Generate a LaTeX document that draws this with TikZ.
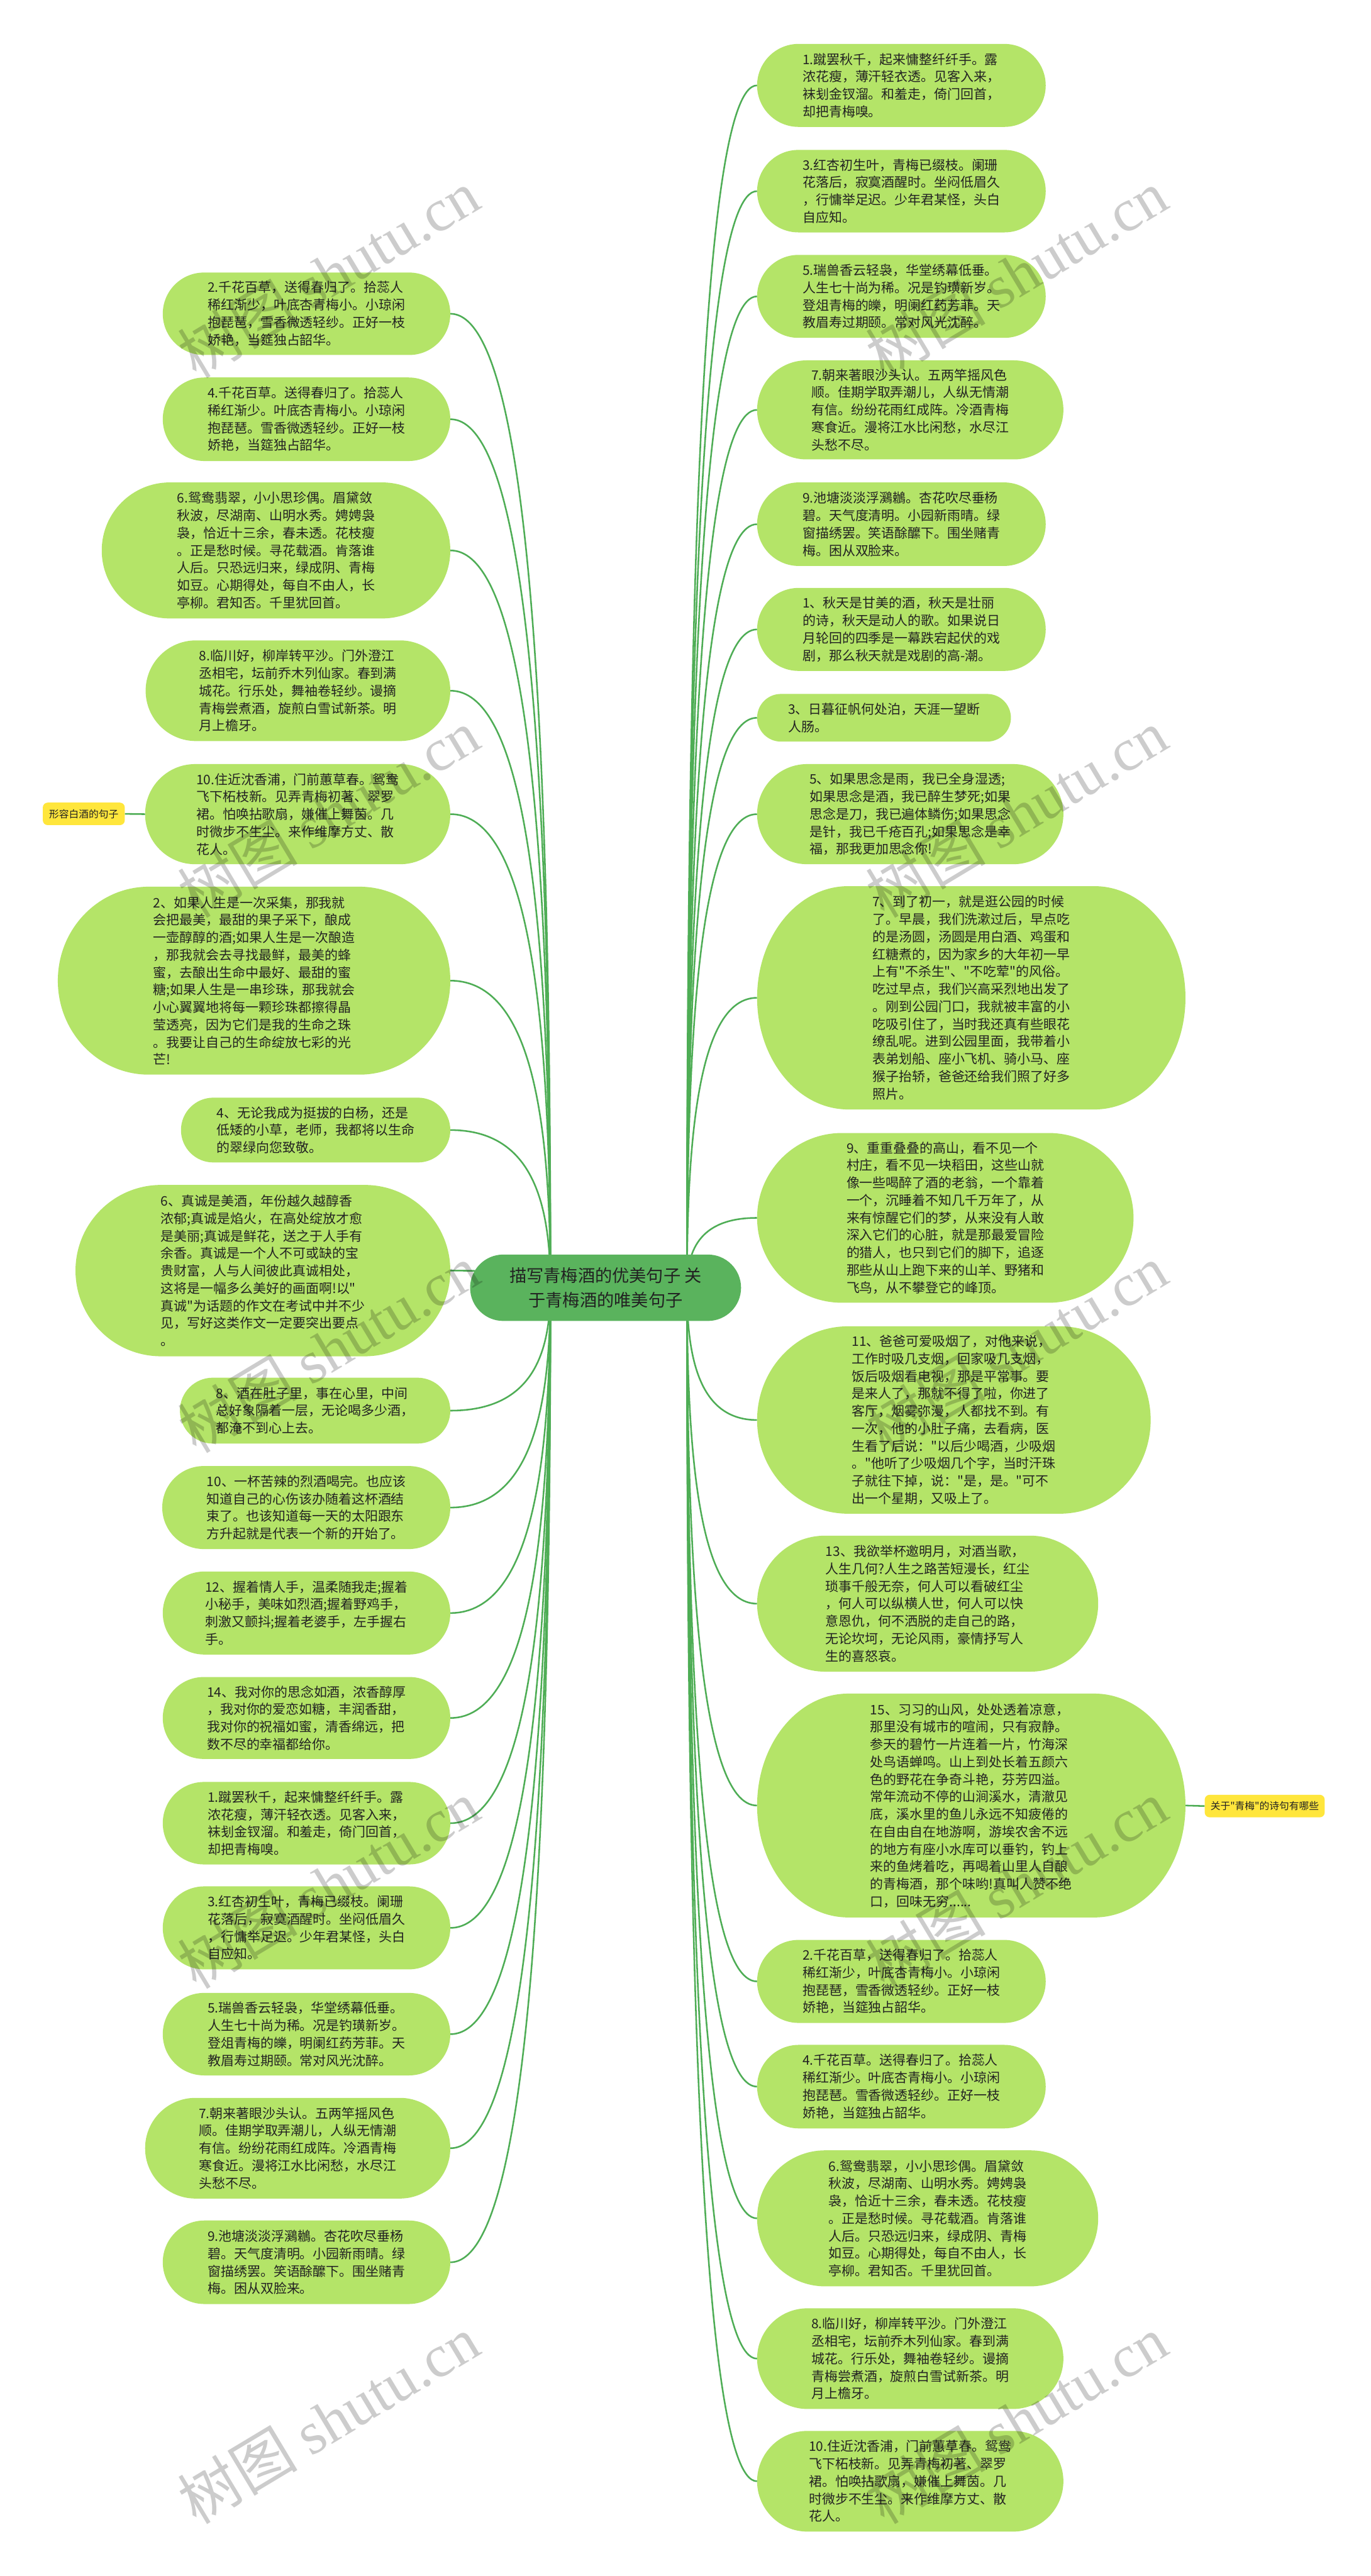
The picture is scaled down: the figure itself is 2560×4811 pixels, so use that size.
\documentclass[tikz,border=0pt]{standalone}
\usepackage{fontspec}
\newfontfamily\cjk{Noto Sans CJK SC}
\newfontfamily\wmserif{Liberation Serif}
\usetikzlibrary{calc}
\definecolor{leafc}{HTML}{B4E468}
\definecolor{linec}{HTML}{4EAD55}
\definecolor{rootc}{HTML}{5AB35D}
\definecolor{yelc}{HTML}{FFE63C}
\definecolor{txtc}{HTML}{222222}
\tikzset{
  leaft/.style={font=\cjk\fontsize{24.6}{32.6}\selectfont, text=txtc, align=left, inner sep=0pt},
  conn/.style={draw=linec, line width=3pt},
  ylab/.style={fill=yelc, rounded corners=9pt, font=\cjk\fontsize{18.5}{22}\selectfont, text=txtc, inner sep=0pt},
  rootn/.style={fill=rootc, rounded corners=62pt, font=\cjk\fontsize{32}{46}\selectfont, text=txtc, align=center, inner sep=0pt},
  wm/.style={font=\cjk\fontsize{112}{112}\selectfont, text=black, text opacity=0.2, rotate=31, anchor=west, inner sep=0pt}
}
\newcommand\leafbox[6]{%
  \pgfmathsetmacro\lfh{#5-#3}%
  \pgfmathsetmacro\lfw{#4-#2}%
  \pgfmathsetmacro\lfry{\lfh/2}%
  \pgfmathsetmacro\lfrx{min(\lfry,170)}%
  \pgfmathsetmacro\lfym{(#3+#5)/2}%
  \pgfmathsetmacro\lfcx{(#2+#4)/2}%
  \pgfmathsetmacro\lfkx{0.5523*\lfrx}%
  \pgfmathsetmacro\lfky{0.5523*\lfry}%
  \fill[leafc] ({#2+\lfrx},#3) -- ({#4-\lfrx},#3)
    .. controls ({#4-\lfrx+\lfkx},#3) and (#4,{\lfym-\lfky}) .. (#4,\lfym)
    .. controls (#4,{\lfym+\lfky}) and ({#4-\lfrx+\lfkx},#5) .. ({#4-\lfrx},#5)
    -- ({#2+\lfrx},#5)
    .. controls ({#2+\lfrx-\lfkx},#5) and (#2,{\lfym+\lfky}) .. (#2,\lfym)
    .. controls (#2,{\lfym-\lfky}) and ({#2+\lfrx-\lfkx},#3) .. cycle;
  \node[leaft, minimum width=\lfw pt, minimum height=\lfh pt] (#1) at (\lfcx,\lfym) {#6};
}
\newcommand\conL[1]{\draw[conn] (#1.east) .. controls ($(#1.east)!0.85!(rootL |- #1.east)$) and ($(rootL)!0.5!(rootL |- #1.east)$) .. (rootL);}
\newcommand\conR[1]{\draw[conn] (#1.west) .. controls ($(#1.west)!0.85!(rootR |- #1.west)$) and ($(rootR)!0.5!(rootR |- #1.west)$) .. (rootR);}

\newcommand\tQianA{2.千花百草，送得春归了。拾蕊人\\稀红渐少，叶底杏青梅小。小琼闲\\抱琵琶，雪香微透轻纱。正好一枝\\娇艳，当筵独占韶华。}
\newcommand\tQianB{4.千花百草。送得春归了。拾蕊人\\稀红渐少。叶底杏青梅小。小琼闲\\抱琵琶。雪香微透轻纱。正好一枝\\娇艳，当筵独占韶华。}
\newcommand\tYuan{6.鸳鸯翡翠，小小思珍偶。眉黛敛\\秋波，尽湖南、山明水秀。娉娉袅\\袅，恰近十三余，春未透。花枝瘦\\。正是愁时候。寻花载酒。肯落谁\\人后。只恐远归来，绿成阴、青梅\\如豆。心期得处，每自不由人，长\\亭柳。君知否。千里犹回首。}
\newcommand\tLin{8.临川好，柳岸转平沙。门外澄江\\丞相宅，坛前乔木列仙家。春到满\\城花。行乐处，舞袖卷轻纱。谩摘\\青梅尝煮酒，旋煎白雪试新茶。明\\月上檐牙。}
\newcommand\tZhu{10.住近沈香浦，门前蕙草春。鸳鸯\\飞下柘枝新。见弄青梅初著、翠罗\\裙。怕唤拈歌扇，嫌催上舞茵。几\\时微步不生尘。来作维摩方丈、散\\花人。}
\newcommand\tCu{1.蹴罢秋千，起来慵整纤纤手。露\\浓花瘦，薄汗轻衣透。见客入来，\\袜刬金钗溜。和羞走，倚门回首，\\却把青梅嗅。}
\newcommand\tHong{3.红杏初生叶，青梅已缀枝。阑珊\\花落后，寂寞酒醒时。坐闷低眉久\\，行慵举足迟。少年君某怪，头白\\自应知。}
\newcommand\tRui{5.瑞兽香云轻袅，华堂绣幕低垂。\\人生七十尚为稀。况是钓璜新岁。\\登俎青梅的皪，明阑红药芳菲。天\\教眉寿过期颐。常对风光沈醉。}
\newcommand\tZhao{7.朝来著眼沙头认。五两竿摇风色\\顺。佳期学取弄潮儿，人纵无情潮\\有信。纷纷花雨红成阵。冷酒青梅\\寒食近。漫将江水比闲愁，水尽江\\头愁不尽。}
\newcommand\tChi{9.池塘淡淡浮鸂鶒。杏花吹尽垂杨\\碧。天气度清明。小园新雨晴。绿\\窗描绣罢。笑语酴醿下。围坐赌青\\梅。困从双脸来。}

\begin{document}
\begin{tikzpicture}[x=1pt,y=-1pt]
\fill[white] (0,0) rectangle (2560,4811);
\useasboundingbox (0,0) rectangle (2560,4811);

\coordinate (rootL) at (1028,2405);
\coordinate (rootR) at (1283,2405);

% left leaves
\leafbox{La}{304}{509}{841}{663}{\tQianA}
\leafbox{Lb}{304}{705}{841}{861}{\tQianB}
\leafbox{Lc}{190}{901}{841}{1155}{\tYuan}
\leafbox{Ld}{272}{1196}{841}{1384}{\tLin}
\leafbox{Le}{271}{1427}{841}{1614}{\tZhu}
\leafbox{Lf}{108}{1656}{841}{2007}{2、如果人生是一次采集，那我就\\会把最美，最甜的果子采下，酿成\\一壶醇醇的酒;如果人生是一次酿造\\，那我就会去寻找最鲜，最美的蜂\\蜜，去酿出生命中最好、最甜的蜜\\糖;如果人生是一串珍珠，那我就会\\小心翼翼地将每一颗珍珠都擦得晶\\莹透亮，因为它们是我的生命之珠\\。我要让自己的生命绽放七彩的光\\芒!}
\leafbox{Lg}{338}{2050}{841}{2171}{4、无论我成为挺拔的白杨，还是\\低矮的小草，老师，我都将以生命\\的翠绿向您致敬。}
\leafbox{Lh}{141}{2213}{841}{2533}{6、真诚是美酒，年份越久越醇香\\浓郁;真诚是焰火，在高处绽放才愈\\是美丽;真诚是鲜花，送之于人手有\\余香。真诚是一个人不可或缺的宝\\贵财富，人与人间彼此真诚相处，\\这将是一幅多么美好的画面啊!以"\\真诚"为话题的作文在考试中并不少\\见，写好这类作文一定要突出要点\\。}
\leafbox{Li}{336}{2573}{841}{2696}{8、酒在肚子里，事在心里，中间\\总好象隔着一层，无论喝多少酒，\\都淹不到心上去。}
\leafbox{Lj}{303}{2738}{841}{2893}{10、一杯苦辣的烈酒喝完。也应该\\知道自己的心伤该办随着这杯酒结\\束了。也该知道每一天的太阳跟东\\方升起就是代表一个新的开始了。}
\leafbox{Lk}{304}{2935}{841}{3090}{12、握着情人手，温柔随我走;握着\\小秘手，美味如烈酒;握着野鸡手，\\刺激又颤抖;握着老婆手，左手握右\\手。}
\leafbox{Ll}{304}{3132}{841}{3285}{14、我对你的思念如酒，浓香醇厚\\，我对你的爱恋如糖，丰润香甜，\\我对你的祝福如蜜，清香绵远，把\\数不尽的幸福都给你。}
\leafbox{Lm}{304}{3328}{841}{3482}{\tCu}
\leafbox{Ln}{304}{3523}{841}{3678}{\tHong}
\leafbox{Lo}{304}{3722}{841}{3876}{\tRui}
\leafbox{Lp}{271}{3918}{841}{4106}{\tZhao}
\leafbox{Lq}{304}{4147}{841}{4303}{\tChi}

% right leaves
\leafbox{Ra}{1414}{82}{1953}{237}{\tCu}
\leafbox{Rb}{1414}{280}{1953}{434}{\tHong}
\leafbox{Rc}{1414}{476}{1953}{631}{\tRui}
\leafbox{Rd}{1414}{673}{1986}{858}{\tZhao}
\leafbox{Re}{1414}{901}{1953}{1057}{\tChi}
\leafbox{Rf}{1414}{1098}{1953}{1253}{1、秋天是甘美的酒，秋天是壮丽\\的诗，秋天是动人的歌。如果说日\\月轮回的四季是一幕跌宕起伏的戏\\剧，那么秋天就是戏剧的高-潮。}
\leafbox{Rg}{1414}{1296}{1888}{1385}{3、日暮征帆何处泊，天涯一望断\\人肠。}
\leafbox{Rh}{1414}{1427}{1986}{1614}{5、如果思念是雨，我已全身湿透;\\如果思念是酒，我已醉生梦死;如果\\思念是刀，我已遍体鳞伤;如果思念\\是针，我已千疮百孔;如果思念是幸\\福，那我更加思念你!}
\leafbox{Ri}{1414}{1655}{2214}{2072}{7、到了初一，就是逛公园的时候\\了。早晨，我们洗漱过后，早点吃\\的是汤圆，汤圆是用白酒、鸡蛋和\\红糖煮的，因为家乡的大年初一早\\上有"不杀生"、"不吃荤"的风俗。\\吃过早点，我们兴高采烈地出发了\\。刚到公园门口，我就被丰富的小\\吃吸引住了，当时我还真有些眼花\\缭乱呢。进到公园里面，我带着小\\表弟划船、座小飞机、骑小马、座\\猴子抬轿，爸爸还给我们照了好多\\照片。}
\leafbox{Rj}{1414}{2116}{2117}{2433}{9、重重叠叠的高山，看不见一个\\村庄，看不见一块稻田，这些山就\\像一些喝醉了酒的老翁，一个靠着\\一个，沉睡着不知几千万年了，从\\来有惊醒它们的梦，从来没有人敢\\深入它们的心脏，就是那最爱冒险\\的猎人，也只到它们的脚下，追逐\\那些从山上跑下来的山羊、野猪和\\飞鸟，从不攀登它的峰顶。}
\leafbox{Rk}{1414}{2477}{2149}{2827}{11、爸爸可爱吸烟了，对他来说，\\工作时吸几支烟，回家吸几支烟，\\饭后吸烟看电视，那是平常事。要\\是来人了，那就不得了啦，你进了\\客厅，烟雾弥漫，人都找不到。有\\一次，他的小肚子痛，去看病，医\\生看了后说："以后少喝酒，少吸烟\\。"他听了少吸烟几个字，当时汗珠\\子就往下掉，说："是，是。"可不\\出一个星期，又吸上了。}
\leafbox{Rl}{1414}{2868}{2051}{3122}{13、我欲举杯邀明月，对酒当歌，\\人生几何?人生之路苦短漫长，红尘\\琐事千般无奈，何人可以看破红尘\\，何人可以纵横人世，何人可以快\\意恩仇，何不洒脱的走自己的路，\\无论坎坷，无论风雨，豪情抒写人\\生的喜怒哀。}
\leafbox{Rm}{1414}{3163}{2214}{3581}{15、习习的山风，处处透着凉意，\\那里没有城市的喧闹，只有寂静。\\参天的碧竹一片连着一片，竹海深\\处鸟语蝉鸣。山上到处长着五颜六\\色的野花在争奇斗艳，芬芳四溢。\\常年流动不停的山涧溪水，清澈见\\底，溪水里的鱼儿永远不知疲倦的\\在自由自在地游啊，游埃农舍不远\\的地方有座小水库可以垂钓，钓上\\来的鱼烤着吃，再喝着山里人自酿\\的青梅酒，那个味哟!真叫人赞不绝\\口，回味无穷......}
\leafbox{Rn}{1414}{3623}{1953}{3778}{\tQianA}
\leafbox{Ro}{1414}{3819}{1953}{3975}{\tQianB}
\leafbox{Rp}{1414}{4016}{2051}{4270}{\tYuan}
\leafbox{Rq}{1414}{4311}{1986}{4499}{\tLin}
\leafbox{Rr}{1414}{4540}{1986}{4728}{\tZhu}

% connectors
\foreach \n in {La,Lb,Lc,Ld,Le,Lf,Lg,Lh,Li,Lj,Lk,Ll,Lm,Ln,Lo,Lp,Lq} {\conL{\n}}
\foreach \n in {Ra,Rb,Rc,Rd,Re,Rf,Rg,Rh,Ri,Rj,Rk,Rl,Rm,Rn,Ro,Rp,Rq,Rr} {\conR{\n}}

% root
\node[rootn, minimum width=506pt, minimum height=124pt] (root) at (1131,2405) {描写青梅酒的优美句子 关\\于青梅酒的唯美句子};

% yellow labels
\node[ylab, minimum width=153pt, minimum height=42pt] (yl) at (156.5,1520) {形容白酒的句子};
\node[ylab, minimum width=224pt, minimum height=42pt] (yr) at (2362,3373) {关于"青梅"的诗句有哪些};
\draw[conn] (yl.east) -- (Le.west);
\draw[conn] (Rm.east) -- (yr.west);

% watermarks
\foreach \yy in {672,1680,2680,3680,4680} {
  \node[wm] (wmL\yy) at (345,\yy) {树图 {\wmserif shutu.cn}};
  \node[wm] (wmR\yy) at (1630,\yy) {树图 {\wmserif shutu.cn}};
}
\end{tikzpicture}
\end{document}
